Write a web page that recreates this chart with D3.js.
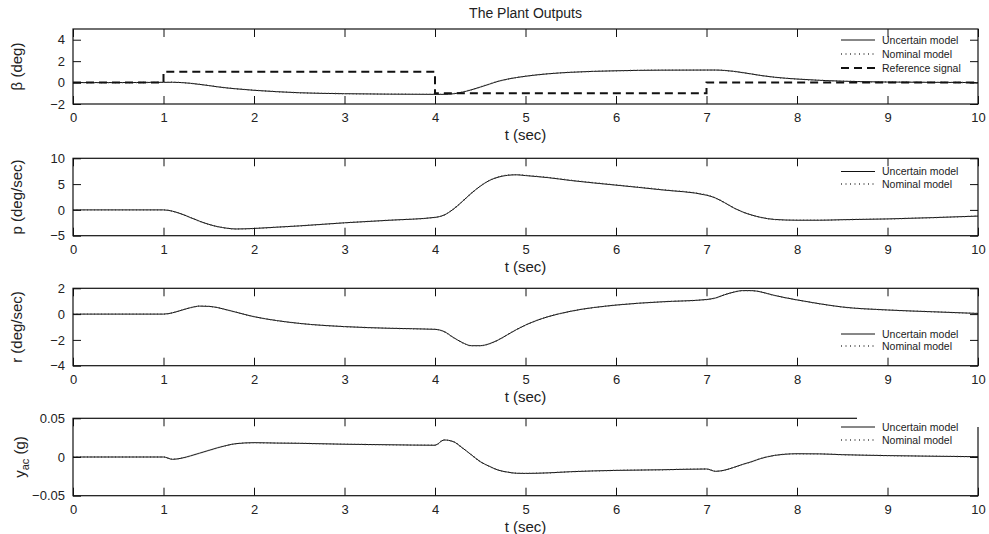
<!DOCTYPE html>
<html><head><meta charset="utf-8">
<script src="https://cdn.jsdelivr.net/npm/d3@7"></script>
<style>
body{margin:0;background:#fff;}
svg text{font-family:"Liberation Sans",Arial,sans-serif;fill:#222;}
</style></head>
<body>
<svg id="chart" width="989" height="534"></svg>
<script>
// ---- data ----
const T = [0,0.5,1,1.1,1.2,1.3,1.4,1.5,1.6,1.7,1.8,2,2.25,2.5,3,3.5,4,4.1,4.2,4.3,4.4,4.5,4.6,4.7,4.8,4.9,5,5.25,5.5,6,6.5,7,7.1,7.2,7.3,7.4,7.5,7.6,7.75,8,8.25,8.5,9,9.5,10];

const betaUnc = [0,0,0.02,0.03,0.0,-0.07,-0.17,-0.28,-0.4,-0.5,-0.58,-0.72,-0.85,-0.95,-1.04,-1.08,-1.1,-1.1,-1.05,-0.9,-0.68,-0.42,-0.15,0.12,0.32,0.47,0.59,0.82,0.96,1.1,1.16,1.17,1.17,1.13,1.05,0.93,0.8,0.66,0.5,0.33,0.21,0.13,0.05,0.02,0.0];
const betaNom = [0,0,0.02,0.03,0.0,-0.07,-0.16,-0.27,-0.39,-0.5,-0.58,-0.71,-0.85,-0.95,-1.03,-1.08,-1.1,-1.1,-1.04,-0.89,-0.67,-0.41,-0.14,0.12,0.32,0.47,0.6,0.82,0.96,1.1,1.16,1.17,1.17,1.13,1.05,0.93,0.8,0.66,0.5,0.33,0.21,0.13,0.05,0.02,0.0];
const refT = [0,1,4,7,10];
const refVal = [0,1,-1,0,0];

const pUnc = [0,0,0,-0.25,-0.8,-1.5,-2.2,-2.8,-3.25,-3.55,-3.7,-3.6,-3.35,-3.1,-2.5,-2.0,-1.45,-1.0,0.1,1.6,3.2,4.6,5.7,6.35,6.7,6.8,6.65,6.25,5.7,4.8,3.9,2.85,2.3,1.4,0.4,-0.4,-1.0,-1.45,-1.85,-2.0,-2.0,-1.9,-1.75,-1.5,-1.2];
const pNom = [0,0,0,-0.25,-0.8,-1.5,-2.2,-2.8,-3.25,-3.55,-3.7,-3.6,-3.35,-3.1,-2.5,-2.0,-1.45,-1.0,0.1,1.6,3.2,4.6,5.7,6.4,6.75,6.85,6.7,6.3,5.75,4.85,3.95,2.9,2.3,1.4,0.4,-0.4,-1.0,-1.45,-1.85,-2.0,-2.0,-1.9,-1.75,-1.5,-1.2];

const rUnc = [0,0,0,0.1,0.3,0.5,0.62,0.6,0.5,0.33,0.15,-0.2,-0.5,-0.72,-0.97,-1.1,-1.18,-1.35,-1.8,-2.2,-2.45,-2.45,-2.3,-2.0,-1.6,-1.2,-0.85,-0.2,0.22,0.7,0.95,1.13,1.25,1.5,1.7,1.82,1.82,1.72,1.45,1.1,0.8,0.55,0.32,0.18,0.05];
const rNom = [0,0,0,0.1,0.3,0.5,0.62,0.6,0.5,0.33,0.15,-0.2,-0.5,-0.72,-0.97,-1.1,-1.18,-1.35,-1.8,-2.2,-2.45,-2.45,-2.3,-2.0,-1.6,-1.2,-0.85,-0.2,0.22,0.7,0.95,1.13,1.25,1.5,1.7,1.82,1.82,1.72,1.45,1.1,0.8,0.55,0.32,0.18,0.05];

const yacUnc = [0,0,0,-0.003,-0.0015,0.0015,0.005,0.0085,0.012,0.015,0.0172,0.0185,0.018,0.0177,0.0165,0.0158,0.0152,0.022,0.02,0.012,0.003,-0.006,-0.012,-0.017,-0.0195,-0.021,-0.0212,-0.0205,-0.019,-0.0173,-0.0165,-0.0155,-0.0185,-0.017,-0.0135,-0.0095,-0.006,-0.002,0.002,0.0042,0.004,0.003,0.0018,0.001,0.0004];
const yacNom = [0,0,0,-0.003,-0.0015,0.0015,0.005,0.0085,0.012,0.015,0.0172,0.0185,0.018,0.0177,0.0165,0.0158,0.0152,0.022,0.02,0.012,0.003,-0.006,-0.012,-0.017,-0.0195,-0.021,-0.0212,-0.0205,-0.019,-0.0173,-0.0165,-0.0155,-0.0185,-0.017,-0.0135,-0.0095,-0.006,-0.002,0.002,0.0042,0.004,0.003,0.0018,0.001,0.0004];

const xTicks = [0,1,2,3,4,5,6,7,8,9,10];
const title = "The Plant Outputs";
const xLabel = "t (sec)";
const legendLabels = ["Uncertain model","Nominal model","Reference signal"];

// ---- layout ----
const svg = d3.select("#chart");
const L = 73, R = 978;
const x = d3.scaleLinear().domain([0,10]).range([L,R]);

const panels = [
  {top:29, bottom:104, dom:[-2,5], ticks:[-2,0,2,4], fmt:d3.format("d"), unc:betaUnc, nom:betaNom, ref:true,
   label:"β (deg)", legY:[40,54,68]},
  {top:158.3, bottom:235.7, dom:[-5,10], ticks:[-5,0,5,10], fmt:d3.format("d"), unc:pUnc, nom:pNom,
   label:"p (deg/sec)", legY:[171.5,184]},
  {top:288.3, bottom:365.7, dom:[-4,2], ticks:[-4,-2,0,2], fmt:d3.format("d"), unc:rUnc, nom:rNom,
   label:"r (deg/sec)", legY:[334,346]},
  {top:418.3, bottom:495.7, dom:[-0.05,0.05], ticks:[-0.05,0,0.05], fmt:d=>d===0?"0":d3.format(".2f")(d), unc:yacUnc, nom:yacNom,
   label:"yac", legY:[427,440], mask:true}
];

svg.append("text").attr("x",(L+R)/2).attr("y",18).attr("text-anchor","middle")
  .style("font-size","14px").text(title);

panels.forEach((p,i)=>{
  const y = d3.scaleLinear().domain(p.dom).range([p.bottom,p.top]);
  const g = svg.append("g");
  const cid = "clip"+i;
  svg.append("clipPath").attr("id",cid).append("rect")
    .attr("x",L).attr("y",p.top).attr("width",R-L).attr("height",p.bottom-p.top);

  const line = d3.line().x(d=>x(d[0])).y(d=>y(d[1])).curve(d3.curveMonotoneX);
  const dUnc = T.map((t,k)=>[t,p.unc[k]]);
  const dNom = T.map((t,k)=>[t,p.nom[k]]);
  const plot = g.append("g").attr("clip-path",`url(#${cid})`);
  plot.append("path").attr("d",line(dUnc)).attr("fill","none").attr("stroke","#111").attr("stroke-width",1);
  plot.append("path").attr("d",line(dNom)).attr("fill","none").attr("stroke","#444").attr("stroke-width",1.3)
    .attr("stroke-dasharray","1,2.5");
  if(p.ref){
    const rl = d3.line().x(d=>x(d[0])).y(d=>y(d[1])).curve(d3.curveStepAfter);
    plot.append("path").attr("d",rl(refT.map((t,k)=>[t,refVal[k]])))
      .attr("fill","none").attr("stroke","#111").attr("stroke-width",2).attr("stroke-dasharray","8,5");
  }

  // axes
  const ax = g.append("g").attr("transform",`translate(0,${p.bottom})`)
    .call(d3.axisBottom(x).tickValues(xTicks).tickSize(-8).tickSizeOuter(0).tickPadding(9).tickFormat(d3.format("d")));
  const axT = g.append("g").attr("transform",`translate(0,${p.top})`)
    .call(d3.axisTop(x).tickValues(xTicks).tickSize(-8).tickSizeOuter(0).tickFormat(""));
  const ay = g.append("g").attr("transform",`translate(${L},0)`)
    .call(d3.axisLeft(y).tickValues(p.ticks).tickSize(-8).tickSizeOuter(0).tickPadding(8).tickFormat(p.fmt));
  const ayR = g.append("g").attr("transform",`translate(${R},0)`)
    .call(d3.axisRight(y).tickValues(p.ticks).tickSize(-8).tickSizeOuter(0).tickFormat(""));
  [ax,axT,ay,ayR].forEach(a=>{
    a.select(".domain").remove();
    a.selectAll("line").attr("stroke","#111");
    a.selectAll("text").style("font-size","13px").attr("fill","#222").style("font-family","Liberation Sans, Arial, sans-serif");
  });
  g.append("rect").attr("x",L).attr("y",p.top).attr("width",R-L).attr("height",p.bottom-p.top)
    .attr("fill","none").attr("stroke","#111").attr("stroke-width",1.2);

  if(p.mask){
    g.append("rect").attr("x",857).attr("y",p.top-6).attr("width",R-857+3).attr("height",(p.legY[0]-p.top)+6).attr("fill","#fff");
  }

  // x label
  g.append("text").attr("x",x(5)).attr("y",p.bottom+36).attr("text-anchor","middle")
    .style("font-size","15px").text(xLabel);

  // y label
  const cy = (p.top+p.bottom)/2;
  const yl = g.append("text").attr("transform",`translate(${i===3?25:22},${cy}) rotate(-90)`)
    .attr("text-anchor","middle").style("font-size","15px");
  if(i===3){
    yl.append("tspan").text("y");
    yl.append("tspan").attr("dy","4").style("font-size","11px").text("ac");
    yl.append("tspan").attr("dy","-4").text(" (g)");
  } else {
    yl.text(p.label);
  }

  // legend
  const nItems = p.ref?3:2;
  const lx0 = 841, lx1 = 875, tx = 882;
  for(let k=0;k<nItems;k++){
    const ly = p.legY[k];
    const ln = g.append("line").attr("x1",lx0).attr("x2",lx1).attr("y1",ly).attr("y2",ly).attr("stroke","#111");
    if(k===0) ln.attr("stroke-width",1);
    if(k===1) ln.attr("stroke-width",1.3).attr("stroke","#444").attr("stroke-dasharray","1,3.5");
    if(k===2) ln.attr("stroke-width",2).attr("stroke-dasharray","8,5");
    g.append("text").attr("x",tx).attr("y",ly+3.5).style("font-size","10.5px").text(legendLabels[k]);
  }
});
</script>
</body></html>
